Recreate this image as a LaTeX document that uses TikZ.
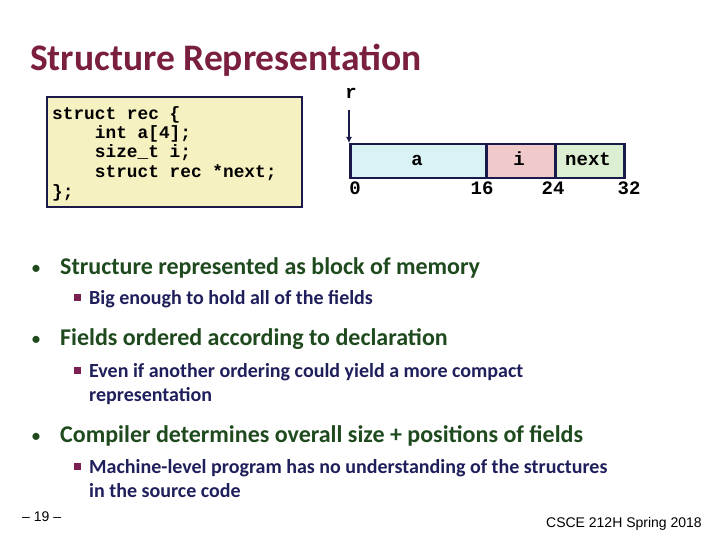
\documentclass[tikz,border=0pt]{standalone}
\usepackage{fontspec}
\usetikzlibrary{arrows.meta}
\setmainfont{Carlito}
\newfontfamily\mono{Liberation Mono}
\newfontfamily\arialf{Liberation Sans}
\definecolor{titlec}{HTML}{7A1F3F}
\definecolor{bulc}{HTML}{1E4A1E}
\definecolor{subc}{HTML}{1F1F5C}
\definecolor{sqc}{HTML}{7A1F4F}
\definecolor{navy}{HTML}{1A1A4A}
\definecolor{codebg}{HTML}{F6F1C1}
\definecolor{ca}{HTML}{D9F3F5}
\definecolor{ci}{HTML}{F0CACA}
\definecolor{cn}{HTML}{DDEFD2}
\begin{document}
\begin{tikzpicture}[x=1pt,y=-1pt,
  code/.style={anchor=base west,inner sep=0,font=\mono\bfseries\fontsize{17.8}{17.8}\selectfont},
  mem/.style={draw=navy,line width=2.5pt},
  memlab/.style={font=\mono\bfseries\fontsize{19}{19}\selectfont,anchor=base,inner sep=0},
  bul/.style={anchor=base west,inner sep=0,font=\bfseries\fontsize{24}{24}\selectfont,text=bulc},
  sub/.style={anchor=base west,inner sep=0,font=\bfseries\fontsize{20}{20}\selectfont,text=subc,align=left},
  dot/.style={anchor=base,inner sep=0,font=\fontsize{20}{20}\selectfont,text=bulc},
  sq/.style={fill=sqc,minimum size=7pt,inner sep=0}]
\useasboundingbox (0,0) rectangle (720,540);
\fill[white] (0,0) rectangle (720,540);
\node[anchor=base west,inner sep=0,font=\bfseries\fontsize{37.5}{37.5}\selectfont,text=titlec] (title) at (30,71) {Structure Representation};
% code box
\draw[fill=codebg,draw=navy,line width=1.5pt] (47,97) rectangle (302,207);
\node[code] (c1) at (52,120) {struct rec \{};
\node[code] (c2) at (52,139) {~~~~int a[4];};
\node[code] (c3) at (52,158) {~~~~size\_t i;};
\node[code] (c4) at (52,178) {~~~~struct rec *next;};
\node[code] (c5) at (52,197) {\};};
% memory
\node[mem,fill=ca,minimum width=136pt,minimum height=34pt,anchor=north west,inner sep=0] (a) at (349,143) {};
\node[mem,fill=ci,minimum width=69pt,minimum height=34pt,anchor=north west,inner sep=0] (i) at (485,143) {};
\node[mem,fill=cn,minimum width=69pt,minimum height=34pt,anchor=north west,inner sep=0] (n) at (554,143) {};
\node[memlab] at (417,166) {a};
\node[memlab] at (519,166) {i};
\node[memlab] at (588,166) {next};
\node[memlab] (r) at (351,99) {r};
\coordinate (rt) at (349,110);
\draw[navy,line width=2.5pt,-{Latex[length=6pt,width=6pt]}] (rt) -- (a.north west);
\node[memlab] at (355,195) {0};
\node[memlab] at (482,195) {16};
\node[memlab] at (553,195) {24};
\node[memlab] at (629,195) {32};
% bullets
\node[dot] (d1) at (36,274) {•};
\node[bul] (b1) at (60,274) {Structure represented as block of memory};
\node[sq] (s1) at (77,297) {};
\node[sub] (t1) at (89,304) {Big enough to hold all of the fields};
\node[dot] (d2) at (36,345) {•};
\node[bul] (b2) at (60,345) {Fields ordered according to declaration};
\node[sq] (s2) at (77,370) {};
\node[sub] (t2) at (89,377) {Even if another ordering could yield a more compact};
\node[sub] (t2b) at (89,401) {representation};
\node[dot] (d3) at (36,442) {•};
\node[bul] (b3) at (60,442) {Compiler determines overall size + positions of fields};
\node[sq] (s3) at (77,466) {};
\node[sub] (t3) at (89,473) {Machine-level program has no understanding of the structures};
\node[sub] (t3b) at (89,497) {in the source code};
\node[anchor=base west,inner sep=0,font=\arialf\fontsize{14}{14}\selectfont] (pg) at (22,521) {– 19 –};
\node[anchor=base east,inner sep=0,font=\arialf\fontsize{14}{14}\selectfont] (ft) at (702,527) {CSCE 212H Spring 2018};
\end{tikzpicture}
\end{document}
